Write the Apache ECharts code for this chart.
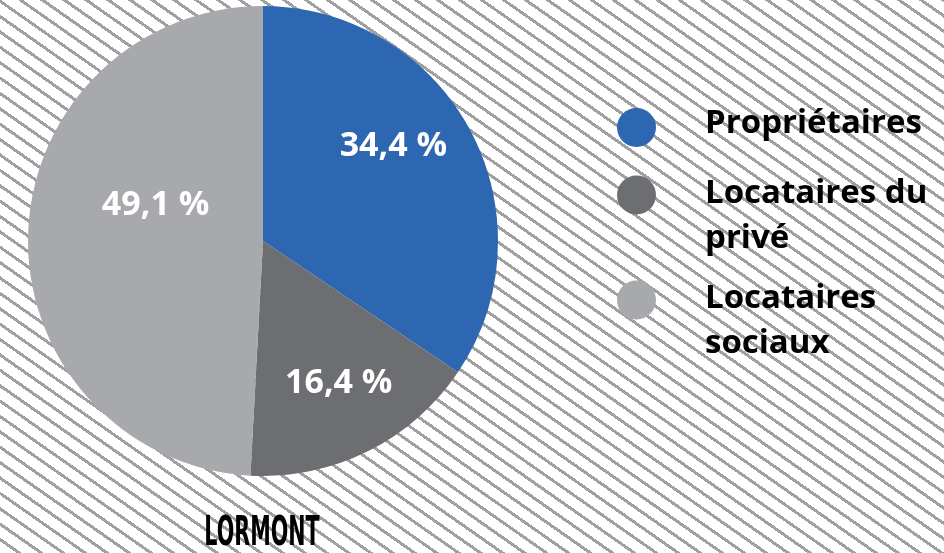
<!DOCTYPE html>
<html>
<head>
<meta charset="utf-8">
<script src="https://cdn.jsdelivr.net/npm/echarts@6/dist/echarts.min.js"></script>
<style>
html, body { margin: 0; padding: 0; background: #fff; }
#chart {
  width: 944px; height: 553px;
  background: repeating-linear-gradient(35deg, #ffffff 0px, #ffffff 9.6px, #a0a0a0 9.6px, #a0a0a0 12.6px);
}
</style>
</head>
<body>
<div id="chart"></div>
<script>
// ---- data ----
const categories = ['Propriétaires', 'Locataires du privé', 'Locataires sociaux'];
const legendLabels = ['Propriétaires', 'Locataires du\nprivé', 'Locataires\nsociaux'];
const values = [34.4, 16.4, 49.1];
const chartTitle = 'LORMONT';

// ---- styles ----
const colors = ['#2e67b1', '#6d6e71', '#a7a9ac'];
const labelOffsets = [[24, -38], [22, 34], [13, -32]];
const legendTops = [101.5, 128.5, 233.5];
const legendPadTop = [0, 43, 43];
const legendPadBottom = [7, 0, 0];
const FONT = '"Open Sans", "Noto Sans", sans-serif';

const chart = echarts.init(document.getElementById('chart'), null, { renderer: 'canvas' });

const pieData = categories.map((name, i) => ({
  name: name,
  value: values[i],
  label: { offset: labelOffsets[i] }
}));

const legends = categories.map((name, i) => ({
  data: [name],
  orient: 'vertical',
  left: 617,
  top: legendTops[i],
  padding: 0,
  itemWidth: 39,
  itemHeight: 39,
  icon: 'circle',
  selectedMode: false,
  formatter: (n) => legendLabels[categories.indexOf(n)],
  textStyle: {
    fontFamily: FONT,
    fontSize: 33,
    fontWeight: 'bold',
    color: '#000000',
    lineHeight: 45,
    padding: [legendPadTop[i], 0, legendPadBottom[i], 44],
    rich: { t: {} }
  }
}));

chart.setOption({
  animation: false,
  color: colors,
  legend: legends,
  graphic: [{
    type: 'text',
    x: 262,
    y: 534,
    scaleX: 0.56,
    style: {
      x: 0, y: 0,
      text: chartTitle,
      fill: '#000000',
      font: 'bold 41px "DejaVu Sans Condensed", "DejaVu Sans", sans-serif',
      align: 'center',
      verticalAlign: 'middle'
    }
  }],
  series: [{
    type: 'pie',
    center: [263, 241],
    radius: 235,
    startAngle: 90,
    clockwise: true,
    avoidLabelOverlap: false,
    itemStyle: { borderWidth: 0 },
    emphasis: { disabled: true },
    labelLine: { show: false },
    label: {
      show: true,
      position: 'inside',
      color: '#ffffff',
      fontFamily: FONT,
      fontSize: 34,
      fontWeight: 'bold',
      formatter: (p) => p.value.toFixed(1).replace('.', ',') + ' %'
    },
    data: pieData
  }]
});
</script>
</body>
</html>
